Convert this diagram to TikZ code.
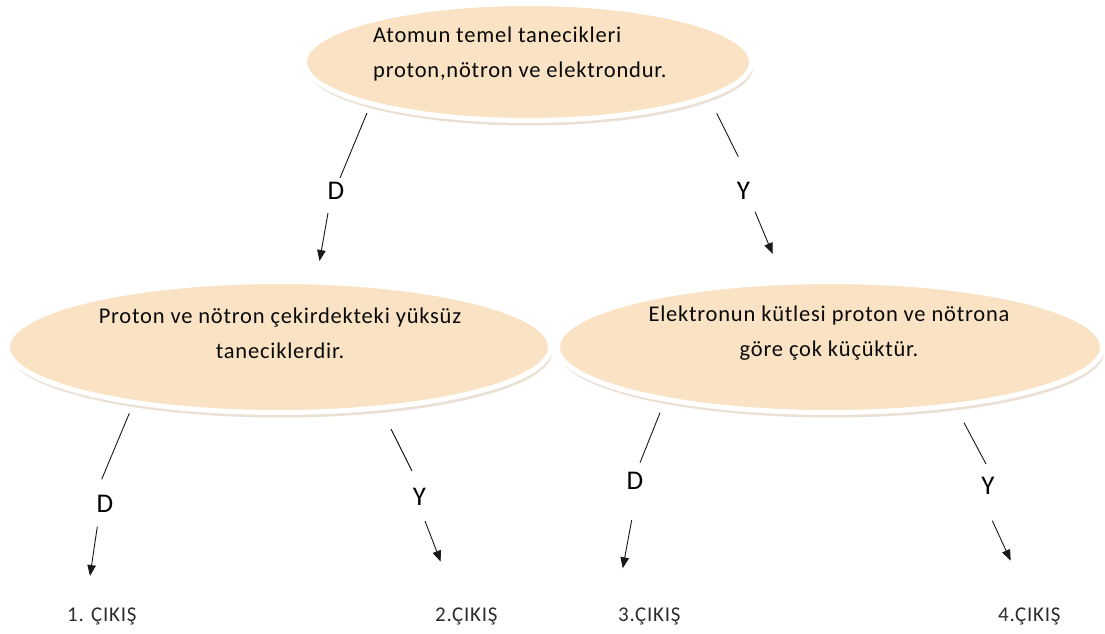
\documentclass[tikz,border=0pt]{standalone}
\usepackage{fontspec}
\setmainfont{Carlito}
\newfontfamily\bodyf[LetterSpace=3.5]{Carlito}
\usetikzlibrary{shapes.geometric,arrows.meta}
\definecolor{fillc}{RGB}{249,227,196}
\definecolor{shadowc}{RGB}{234,224,212}
\definecolor{txtc}{RGB}{10,10,10}
\definecolor{outc}{RGB}{45,45,45}
\tikzset{
  oval/.style={ellipse, fill=fillc, draw=white, line width=5pt, inner sep=0pt,
    preaction={fill=shadowc, transform canvas={shift={(1.5pt,-5pt)}}}},
  body/.style={font=\bodyf\fontsize{22.5}{35}\selectfont, text=txtc, inner sep=0pt},
  lab/.style={font=\fontsize{27}{30}\selectfont, inner sep=0pt, anchor=base},
  outtxt/.style={font=\bodyf\fontsize{21}{24}\selectfont, text=outc, inner sep=0pt, anchor=base west},
  conn/.style={line width=0.9pt, draw=black!90},
  arr/.style={conn, -{Triangle[length=11pt,width=8.5pt]}}
}
\begin{document}
\begin{tikzpicture}[x=1pt,y=-1pt]
\useasboundingbox[fill=white] (0,0) rectangle (1105,634);
% ellipses
\node[oval, minimum width=447pt, minimum height=117pt] (e0) at (528,62) {};
\node[oval, minimum width=543pt, minimum height=131pt] (e1) at (279,347) {};
\node[oval, minimum width=545pt, minimum height=131pt] (e2) at (830,347) {};
% texts
\node[body, align=left, anchor=north west] (t0) at (373,27) {Atomun temel tanecikleri\\proton,nötron ve elektrondur.};
\node[body, align=center, anchor=north] (t1) at (280,308) {Proton ve nötron çekirdekteki yüksüz\\taneciklerdir.};
\node[body, align=center, anchor=north] (t2) at (829,306) {Elektronun kütlesi proton ve nötrona\\göre çok küçüktür.};
% labels
\node[lab] (d0) at (336,199) {D};
\node[lab] (y0) at (743.5,199) {Y};
\node[lab] (d1) at (105,512) {D};
\node[lab] (y1) at (419.5,505) {Y};
\node[lab] (d2) at (635,489) {D};
\node[lab] (y2) at (988,494) {Y};
% outputs
\node[outtxt] (o1) at (67,621) {1. ÇIKIŞ};
\node[outtxt] (o2) at (435,621) {2.ÇIKIŞ};
\node[outtxt] (o3) at (618,621) {3.ÇIKIŞ};
\node[outtxt] (o4) at (998,621) {4.ÇIKIŞ};
% connector coordinates
\coordinate (a1) at (367,113);   \coordinate (a2) at (340,178);
\coordinate (a3) at (328,213);   \coordinate (a4) at (319.5,261);
\coordinate (b1) at (716.7,113.3); \coordinate (b2) at (738.3,156.7);
\coordinate (b3) at (755,211.7);   \coordinate (b4) at (772.7,254);
\coordinate (c1) at (129.3,413.3); \coordinate (c2) at (101.7,479.3);
\coordinate (c3) at (97.3,526.7);  \coordinate (c4) at (90,576);
\coordinate (f1) at (391,429);   \coordinate (f2) at (412,471);
\coordinate (f3) at (425,521);   \coordinate (f4) at (440.7,561.7);
\coordinate (g1) at (660,412.7); \coordinate (g2) at (640,462.7);
\coordinate (g3) at (631.7,520); \coordinate (g4) at (622.7,568.3);
\coordinate (h1) at (964,422.7); \coordinate (h2) at (986,464);
\coordinate (h3) at (992.3,520.7); \coordinate (h4) at (1010.7,560.7);
% connectors
\draw[conn] (a1) -- (a2); \draw[arr] (a3) -- (a4);
\draw[conn] (b1) -- (b2); \draw[arr] (b3) -- (b4);
\draw[conn] (c1) -- (c2); \draw[arr] (c3) -- (c4);
\draw[conn] (f1) -- (f2); \draw[arr] (f3) -- (f4);
\draw[conn] (g1) -- (g2); \draw[arr] (g3) -- (g4);
\draw[conn] (h1) -- (h2); \draw[arr] (h3) -- (h4);
\end{tikzpicture}
\end{document}
